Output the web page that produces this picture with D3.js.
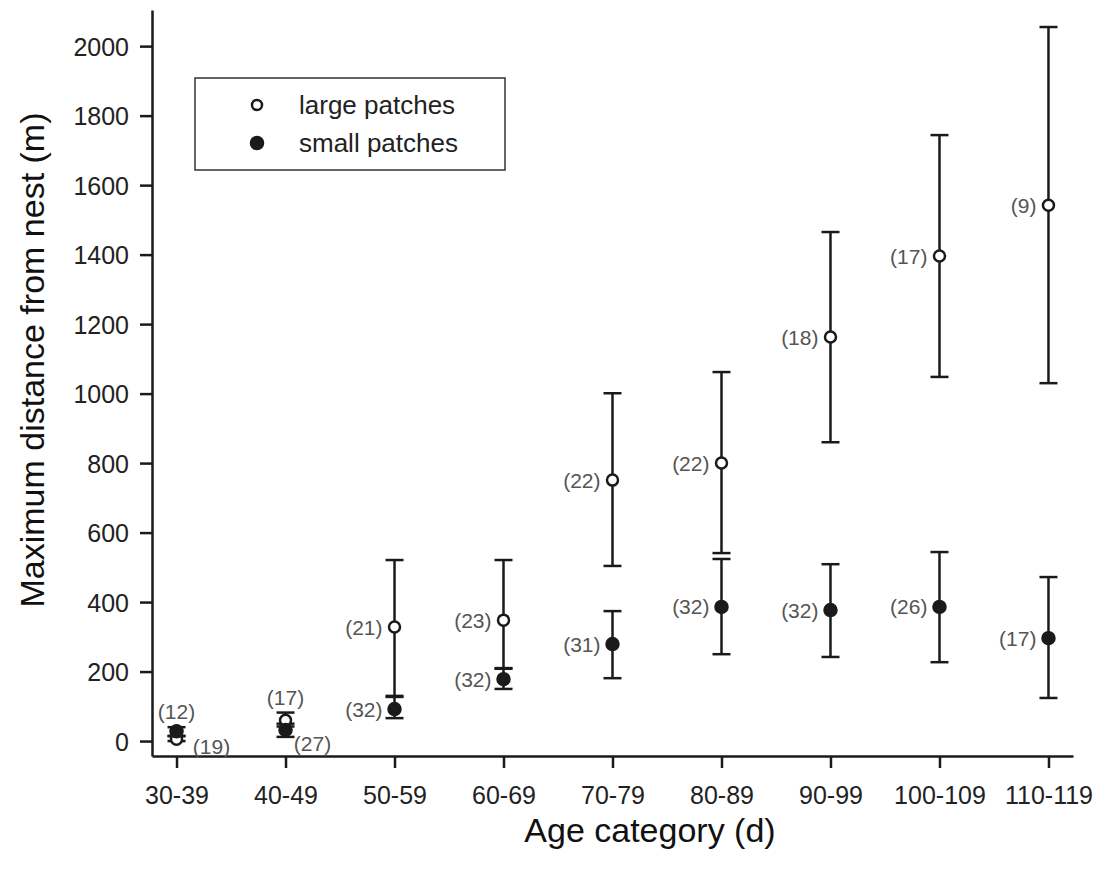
<!DOCTYPE html>
<html>
<head>
<meta charset="utf-8">
<script src="https://cdn.jsdelivr.net/npm/d3@7"></script>
<style>
  body { margin: 0; background: #fff; }
  text { font-family: "Liberation Sans", Arial, sans-serif; }
</style>
</head>
<body>
<div id="chart"></div>
<script>
// age categories on the x axis
const categories = ["30-39", "40-49", "50-59", "60-69", "70-79", "80-89", "90-99", "100-109", "110-119"];

// large patches (open circles): mean, lower and upper error bar, sample size
const largeMean  = [5, 60, 328, 348, 751, 800, 1163, 1396, 1542];
const largeLow   = [0, 42, 130, 210, 504, 541, 860, 1048, 1030];
const largeHigh  = [14, 82, 521, 521, 1001, 1062, 1465, 1744, 2055];
const largeN     = [12, 17, 21, 23, 22, 22, 18, 17, 9];

// small patches (filled circles)
const smallMean  = [28, 32, 92, 178, 279, 386, 377, 386, 296];
const smallLow   = [15, 12, 66, 150, 181, 250, 242, 227, 124];
const smallHigh  = [40, 50, 127, 208, 374, 524, 509, 544, 472];
const smallN     = [19, 27, 32, 32, 31, 32, 32, 26, 17];

const yTicks = [0, 200, 400, 600, 800, 1000, 1200, 1400, 1600, 1800, 2000];

const width = 1103, height = 870;
const plotLeft = 152, plotRight = 1073, plotTop = 10, plotBottom = 756;

const svg = d3.select('#chart').append('svg')
    .attr('width', width)
    .attr('height', height);

const x = d3.scalePoint().domain(categories).range([plotLeft, plotRight]).padding(0.225);
const y = d3.scaleLinear().domain([-43, 2104]).range([plotBottom, plotTop]);

const ink = '#1a1a1a';

// axes
const yAxis = svg.append('g')
    .attr('transform', `translate(${plotLeft},0)`)
    .call(d3.axisLeft(y).tickValues(yTicks).tickFormat(d3.format('d'))
        .tickSize(12).tickPadding(11).tickSizeOuter(0));
const xAxis = svg.append('g')
    .attr('transform', `translate(0,${plotBottom})`)
    .call(d3.axisBottom(x).tickSize(12).tickPadding(18).tickSizeOuter(0));

[yAxis, xAxis].forEach(a => {
    a.select('.domain').attr('stroke', ink).attr('stroke-width', 2.5);
    a.selectAll('.tick line').attr('stroke', ink).attr('stroke-width', 2.5);
    a.selectAll('.tick text').attr('fill', '#222').style('font-size', '25px');
});
yAxis.selectAll('.tick text').attr('dy', '0.36em');

// axis titles
svg.append('text')
    .attr('x', 650).attr('y', 842)
    .attr('text-anchor', 'middle')
    .style('font-size', '34px').attr('fill', '#111')
    .text('Age category (d)');
svg.append('text')
    .attr('transform', 'translate(44,360) rotate(-90)')
    .attr('text-anchor', 'middle')
    .style('font-size', '34px').attr('fill', '#111')
    .text('Maximum distance from nest (m)');

const series = [
    { kind: 'large', mean: largeMean, low: largeLow, high: largeHigh, n: largeN, fill: '#fff', r: 5.5 },
    { kind: 'small', mean: smallMean, low: smallLow, high: smallHigh, n: smallN, fill: ink, r: 6 }
];

const capW = 9;
const plot = svg.append('g');

series.forEach(s => {
    s.rows = categories.map((c, i) => ({ c, i, m: s.mean[i], lo: s.low[i], hi: s.high[i], n: s.n[i] }));
    const g = plot.append('g');
    g.selectAll('line.bar').data(s.rows).join('line')
        .attr('x1', d => x(d.c)).attr('x2', d => x(d.c))
        .attr('y1', d => y(d.lo)).attr('y2', d => y(d.hi))
        .attr('stroke', ink).attr('stroke-width', 2.5);
    ['hi', 'lo'].forEach(k => {
        g.append('g').selectAll('line').data(s.rows).join('line')
            .attr('x1', d => x(d.c) - capW).attr('x2', d => x(d.c) + capW)
            .attr('y1', d => y(d[k])).attr('y2', d => y(d[k]))
            .attr('stroke', ink).attr('stroke-width', 2.5);
    });
});

// markers: open circles first, filled ones on top
series.forEach(s => {
    plot.append('g').selectAll('circle').data(s.rows).join('circle')
        .attr('cx', d => x(d.c)).attr('cy', d => y(d.m))
        .attr('r', s.r)
        .attr('fill', s.fill)
        .attr('stroke', ink).attr('stroke-width', 2.5);
});

// sample size labels, normally on the left of the point
function labelPos(kind, i, px, py) {
    if (i === 0 && kind === 'large') return { x: px, y: py - 28, a: 'middle' };
    if (i === 0 && kind === 'small') return { x: px + 35, y: py + 15, a: 'middle' };
    if (i === 1 && kind === 'large') return { x: px, y: py - 23, a: 'middle' };
    if (i === 1 && kind === 'small') return { x: px + 27, y: py + 13, a: 'middle' };
    return { x: px - 12, y: py, a: 'end' };
}

series.forEach(s => {
    plot.append('g').selectAll('text').data(s.rows).join('text')
        .each(function (d) {
            const p = labelPos(s.kind, d.i, x(d.c), y(d.m));
            d3.select(this).attr('x', p.x).attr('y', p.y).attr('text-anchor', p.a);
        })
        .attr('dy', '0.36em')
        .style('font-size', '21px')
        .attr('fill', '#555')
        .text(d => `(${d.n})`);
});

// legend
const legend = svg.append('g').attr('transform', 'translate(195,78)');
legend.append('rect')
    .attr('width', 310).attr('height', 92)
    .attr('fill', '#fff').attr('stroke', '#333').attr('stroke-width', 1.5);
const legendItems = [
    { label: 'large patches', fill: '#fff', r: 5 },
    { label: 'small patches', fill: ink, r: 6 }
];
legendItems.forEach((d, i) => {
    const ly = 27 + i * 38;
    legend.append('circle')
        .attr('cx', 62).attr('cy', ly).attr('r', d.r)
        .attr('fill', d.fill).attr('stroke', ink).attr('stroke-width', 2.5);
    legend.append('text')
        .attr('x', 104).attr('y', ly).attr('dy', '0.36em')
        .style('font-size', '26px').attr('fill', '#222')
        .text(d.label);
});
</script>
</body>
</html>
